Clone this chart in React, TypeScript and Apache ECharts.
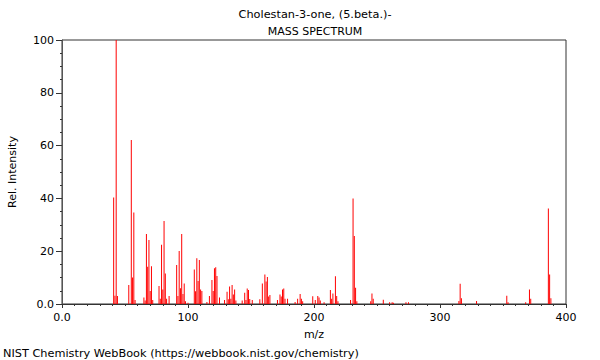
import React, { useEffect, useRef } from "react";
import * as echarts from "echarts";

const titleLine1 = "Cholestan-3-one, (5.beta.)-";
const titleLine2 = "MASS SPECTRUM";
const footer = "NIST Chemistry WebBook (https://webbook.nist.gov/chemistry)";

const mzValues = [
  41, 42, 43, 44, 53, 55, 56, 57, 58, 65, 66, 67, 68, 69, 70, 71, 72, 77, 78, 79, 80, 81, 82, 83, 85,
  91, 92, 93, 94, 95, 96, 97, 98, 100, 105, 106, 107, 108, 109, 110, 111, 115, 117, 119, 120, 121, 122,
  123, 125, 129, 131, 132, 133, 134, 135, 136, 137, 138, 143, 145, 146, 147, 148, 149, 151, 157, 159,
  161, 162, 163, 164, 165, 171, 173, 174, 175, 176, 177, 179, 185, 187, 189, 190, 191, 199, 201, 203,
  204, 205, 208, 213, 214, 215, 217, 218, 219, 229, 231, 232, 233, 234, 245, 246, 247, 255, 260, 262,
  263, 273, 275, 315, 316, 317, 329, 353, 354, 368, 371, 372, 386, 387, 388,
];
const intensities = [
  40.3, 3.1, 100, 3.0, 7.2, 62.1, 10.0, 34.7, 1.5, 2.5, 1.3, 26.5, 14.1, 24.2, 4.9, 14.3, 1.5, 6.8, 2.0,
  22.4, 5.5, 31.4, 11.6, 2.0, 3.0, 14.8, 3.0, 20.1, 6.0, 26.5, 3.8, 7.8, 1.0, 0.5, 13.1, 4.8, 17.3, 8.7,
  16.7, 5.5, 4.9, 0.8, 3.0, 9.1, 4.9, 13.5, 13.9, 10.6, 2.5, 1.5, 4.6, 1.8, 6.6, 2.0, 7.2, 3.6, 5.5, 1.3,
  1.3, 4.3, 1.5, 5.9, 5.3, 1.9, 1.5, 1.8, 7.8, 11.2, 8.5, 10.2, 2.8, 3.4, 1.5, 3.6, 2.8, 5.5, 5.9, 2.0,
  2.0, 0.8, 2.0, 3.8, 2.0, 1.0, 2.9, 1.5, 3.0, 2.5, 1.3, 0.7, 5.3, 2.0, 4.0, 10.5, 3.0, 1.0, 1.5, 40.0,
  25.8, 6.2, 1.0, 1.0, 4.0, 2.0, 1.6, 0.7, 0.7, 0.5, 0.7, 0.7, 1.1, 7.7, 2.2, 1.1, 3.1, 0.7, 0.7, 5.5,
  2.0, 36.2, 11.2, 2.2,
];
const xTicks = [0, 400, 100];
const yTicks = [0, 100, 20];

const FONT = "DejaVu Sans";

export default function App() {
  const ref = useRef<HTMLDivElement>(null);
  useEffect(() => {
    if (!ref.current) return;
    const chart = echarts.init(ref.current, undefined, { renderer: "svg" });
    const data = mzValues.map((m, i) => [m, intensities[i]]);
    const fmt = (v: number) => (v === 0 ? "0.0" : String(v));
    chart.setOption({
      animation: false,
      title: [
        {
          text: titleLine1,
          left: 315,
          top: 7,
          padding: 0,
          textAlign: "center",
          textStyle: { fontFamily: FONT, fontSize: 11.3, fontWeight: "normal", color: "#000", lineHeight: 14 },
        },
        {
          text: titleLine2,
          left: 315,
          top: 24.5,
          padding: 0,
          textAlign: "center",
          textStyle: { fontFamily: FONT, fontSize: 11, fontWeight: "normal", color: "#000", lineHeight: 14 },
        },
      ],
      graphic: [
        {
          type: "text",
          left: 3,
          top: 347.5,
          style: { text: footer, font: `11.3px "${FONT}"`, fill: "#000" },
        },
      ],
      grid: {
        left: 62,
        right: 34,
        top: 40,
        bottom: 56,
        outerBoundsMode: "none",
        containLabel: false,
        show: true,
        borderColor: "#333",
        borderWidth: 1,
        backgroundColor: "transparent",
      },
      xAxis: {
        type: "value",
        min: xTicks[0],
        max: xTicks[1],
        interval: xTicks[2],
        name: "m/z",
        nameLocation: "middle",
        nameGap: 25,
        nameTextStyle: { fontFamily: FONT, fontSize: 11, color: "#000" },
        axisLine: { lineStyle: { color: "#333" } },
        axisTick: { length: 4, lineStyle: { color: "#333" } },
        minorTick: { show: true, splitNumber: 10, length: 2, lineStyle: { color: "#333" } },
        splitLine: { show: false },
        axisLabel: { formatter: fmt, fontFamily: FONT, fontSize: 11, color: "#000", margin: 8 },
      },
      yAxis: {
        type: "value",
        min: yTicks[0],
        max: yTicks[1],
        interval: yTicks[2],
        name: "Rel. Intensity",
        nameLocation: "middle",
        nameGap: 44,
        nameTextStyle: { fontFamily: FONT, fontSize: 11, color: "#000" },
        axisLine: { show: true, lineStyle: { color: "#555" } },
        axisTick: { show: true, length: 6, lineStyle: { color: "#333" } },
        minorTick: { show: true, splitNumber: 4, length: 2, lineStyle: { color: "#333" } },
        splitLine: { show: false },
        axisLabel: { formatter: fmt, fontFamily: FONT, fontSize: 11, color: "#000", margin: 8 },
      },
      series: [
        {
          type: "bar",
          data,
          barWidth: 1,
          itemStyle: { color: "#ff0000", borderColor: "#ff0000", borderWidth: 0 },
          emphasis: { disabled: true },
          silent: true,
        },
      ],
    });
    return () => chart.dispose();
  }, []);
  return <div ref={ref} style={{ width: 600, height: 360, position: "absolute", left: 0, top: 0 }} />;
}
